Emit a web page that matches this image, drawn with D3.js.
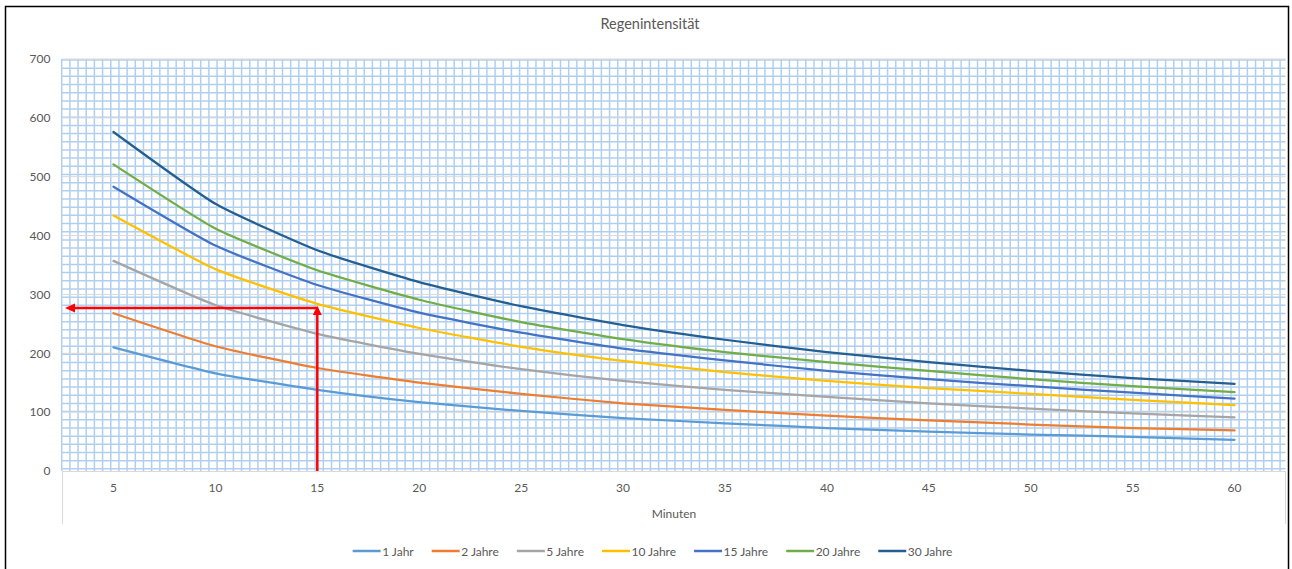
<!DOCTYPE html>
<html>
<head>
<meta charset="utf-8">
<script src="https://cdn.jsdelivr.net/npm/d3@7"></script>
<style>
  html, body { margin: 0; padding: 0; background: #fff; }
  svg { display: block; }
  text { font-family: Lato, "Open Sans", sans-serif; fill: #595959; }
</style>
</head>
<body>
<svg id="chart" width="1292" height="569"></svg>
<script>
// Rainfall intensity by duration (minutes) and return period
const durations = [5, 10, 15, 20, 25, 30, 35, 40, 45, 50, 55, 60];
const yTicks = [0, 100, 200, 300, 400, 500, 600, 700];

const jahr1   = [210, 166, 138, 117, 102, 90, 81, 73, 67, 62, 58, 53];
const jahre2  = [268, 212, 175, 150, 131, 115, 104, 94, 86, 79, 73, 69];
const jahre5  = [357, 282, 233, 199, 173, 153, 138, 126, 115, 106, 98, 91];
const jahre10 = [434, 343, 284, 243, 211, 187, 168, 153, 141, 131, 121, 112];
const jahre15 = [483, 383, 316, 269, 235, 208, 188, 170, 156, 144, 133, 123];
const jahre20 = [521, 412, 341, 291, 253, 224, 202, 185, 170, 156, 144, 134];
const jahre30 = [576, 454, 375, 321, 280, 248, 223, 202, 185, 170, 158, 148];

const seriesNames  = ["1 Jahr", "2 Jahre", "5 Jahre", "10 Jahre", "15 Jahre", "20 Jahre", "30 Jahre"];
const seriesValues = [jahr1, jahre2, jahre5, jahre10, jahre15, jahre20, jahre30];
const seriesColors = ["#5b9bd5", "#ed7d31", "#a5a5a5", "#ffc000", "#4472c4", "#70ad47", "#255e91"];

// Reading example: 15 minutes -> intensity
const readDuration = 15;
const readIntensity = 277;

const svg = d3.select("#chart");

const plot = { left: 62.5, right: 1285.5, top: 59, bottom: 471 };

const x = d3.scaleBand()
  .domain(durations)
  .range([plot.left, plot.right]);
const xc = d => x(d) + x.bandwidth() / 2;

const y = d3.scaleLinear()
  .domain([0, 700])
  .range([plot.bottom, plot.top]);

// outer frame
svg.append("rect")
  .attr("x", 5.5).attr("y", 6.5)
  .attr("width", 1283).attr("height", 575)
  .attr("fill", "none").attr("stroke", "#000").attr("stroke-width", 1.5);

// graph-paper fill of the plot area
const cell = 8.177;
const gridG = svg.append("g").attr("stroke", "#b0cfee").attr("stroke-width", 1.5);
d3.range(0, 150).forEach(k => {
  const gx = 61.7 + k * cell;
  if (gx <= plot.right + 0.5) {
    gridG.append("line").attr("x1", gx).attr("x2", gx)
      .attr("y1", plot.top).attr("y2", plot.bottom);
  }
});
d3.range(0, 51).forEach(k => {
  const gy = 60 + k * cell;
  if (gy <= plot.bottom - 1) {
    gridG.append("line").attr("x1", plot.left - 1).attr("x2", plot.right)
      .attr("y1", gy).attr("y2", gy);
  }
});

// major gridlines
svg.append("g")
  .selectAll("line")
  .data(yTicks.slice(1))
  .join("line")
  .attr("x1", plot.left).attr("x2", plot.right)
  .attr("y1", d => y(d)).attr("y2", d => y(d))
  .attr("stroke", "#d9d9d9").attr("stroke-width", 1);

// y axis labels
const yAxis = d3.axisLeft(y).tickValues(yTicks).tickSize(0).tickPadding(12);
const yg = svg.append("g").attr("transform", `translate(${plot.left},0)`).call(yAxis);
yg.select(".domain").remove();
yg.selectAll("text").attr("font-size", 12).style("fill", "#595959").attr("font-family", "Lato");

// x axis
const xAxis = d3.axisBottom(x).tickSize(0).tickPadding(12);
const xg = svg.append("g").attr("transform", `translate(0,${plot.bottom})`).call(xAxis);
xg.select(".domain").attr("stroke", "#d9d9d9").attr("d", `M${plot.left},0.5H${plot.right}`);
xg.selectAll("text").attr("font-size", 12).style("fill", "#595959").attr("font-family", "Lato");
[plot.left, plot.right].forEach(px => {
  svg.append("line")
    .attr("x1", px).attr("x2", px)
    .attr("y1", plot.bottom).attr("y2", 524)
    .attr("stroke", "#d9d9d9").attr("stroke-width", 1);
});

// series lines
const line = d3.line()
  .x((d, i) => xc(durations[i]))
  .y(d => y(d))
  .curve(d3.curveCardinal.tension(0.5));

svg.append("g")
  .selectAll("path")
  .data(seriesValues)
  .join("path")
  .attr("d", d => line(d))
  .attr("fill", "none")
  .attr("stroke", (d, i) => seriesColors[i])
  .attr("stroke-width", 2.25)
  .attr("stroke-linecap", "round");

// red reading arrows
const ax = xc(readDuration);
const ay = y(readIntensity);
const red = "#ff0000";
const arrowG = svg.append("g");
arrowG.append("line")
  .attr("x1", ax).attr("x2", ax)
  .attr("y1", y(0)).attr("y2", ay + 6)
  .attr("stroke", red).attr("stroke-width", 2.5);
arrowG.append("path")
  .attr("d", `M${ax},${ay - 2}L${ax - 4.5},${ay + 7}L${ax + 4.5},${ay + 7}Z`)
  .attr("fill", red);
const tipX = plot.left + 2.5;
arrowG.append("line")
  .attr("x1", ax + 1).attr("x2", tipX + 8)
  .attr("y1", ay).attr("y2", ay)
  .attr("stroke", red).attr("stroke-width", 2.5);
arrowG.append("path")
  .attr("d", `M${tipX},${ay}L${tipX + 10},${ay - 4.5}L${tipX + 10},${ay + 4.5}Z`)
  .attr("fill", red);

// title
svg.append("text")
  .attr("x", 650).attr("y", 29)
  .attr("text-anchor", "middle")
  .attr("font-size", 14.5)
  .text("Regenintensität");

// x axis title
svg.append("text")
  .attr("x", (plot.left + plot.right) / 2).attr("y", 518)
  .attr("text-anchor", "middle")
  .attr("font-size", 12)
  .text("Minuten");

// legend, laid out left to right then centred
const legend = svg.append("g");
let lx = 0;
seriesNames.forEach((name, i) => {
  legend.append("line")
    .attr("x1", lx).attr("x2", lx + 28)
    .attr("y1", 551).attr("y2", 551)
    .attr("stroke", seriesColors[i]).attr("stroke-width", 2.5);
  const t = legend.append("text")
    .attr("x", lx + 29.5).attr("y", 555.5)
    .attr("font-size", 12)
    .text(name);
  lx = lx + 29.5 + t.node().getComputedTextLength() + 18;
});
const legendWidth = lx - 18;
legend.attr("transform", `translate(${652.5 - legendWidth / 2},0)`);
</script>
</body>
</html>
